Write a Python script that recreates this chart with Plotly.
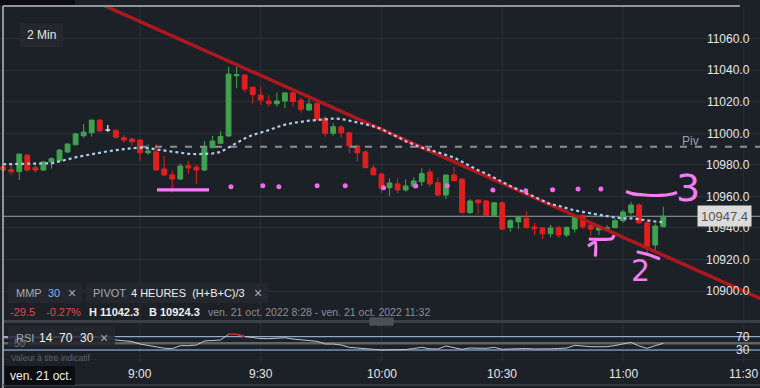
import pandas as pd
import plotly.graph_objects as go

# ---------------- data ----------------
DAY = "2022-10-21"
FIRST_CANDLE = "08:26"

opens = [10978.8, 10977.0, 10975.7, 10986.2, 10978.2, 10976.7, 10981.8, 10982.5, 10988.1, 10992.8,
         10998.5, 11000.4, 11008.4, 11002.1, 11002.0, 10997.2, 10996.4, 10995.8, 10987.7, 10988.3,
         10977.4, 10973.6, 10971.0, 10979.5, 10978.6, 10976.7, 10990.9, 10993.7, 10998.3, 11036.5,
         11037.0, 11029.2, 11024.3, 11020.5, 11018.8, 11020.5, 11025.6, 11021.1, 11014.8, 11019.0,
         11009.5, 11000.0, 11004.0, 11000.4, 10992.0, 10988.2, 10978.0, 10974.2, 10965.5, 10967.9,
         10964.1, 10966.6, 10969.3, 10975.5, 10968.7, 10960.9, 10973.6, 10971.0, 10949.7, 10957.7,
         10957.1, 10948.0, 10956.0, 10940.2, 10943.9, 10946.1, 10940.6, 10940.0, 10936.3, 10940.2,
         10935.5, 10939.3, 10947.8, 10941.9, 10938.7, 10939.3, 10940.2, 10944.6, 10949.7, 10954.5,
         10943.3, 10929.2, 10940.8]
highs = [10980.0, 10979.9, 10987.0, 10986.5, 10981.0, 10982.5, 10984.8, 10990.0, 10993.8, 11000.3,
         11005.9, 11008.6, 11009.0, 11005.3, 11002.3, 10999.0, 10997.2, 10996.0, 10993.1, 10993.2,
         10985.6, 10976.3, 10981.0, 10982.5, 10980.0, 10995.1, 10998.3, 11001.5, 11042.3, 11042.2,
         11037.3, 11029.5, 11029.6, 11024.3, 11025.8, 11026.0, 11026.2, 11022.6, 11021.8, 11021.0,
         11011.0, 11006.4, 11005.3, 11000.8, 10992.6, 10989.4, 10979.9, 10974.5, 10971.5, 10971.5,
         10970.8, 10972.1, 10977.8, 10977.4, 10972.1, 10973.6, 10978.8, 10971.3, 10958.2, 10958.0,
         10957.7, 10956.6, 10956.6, 10945.7, 10947.3, 10950.7, 10943.3, 10940.5, 10941.9, 10941.2,
         10941.0, 10948.0, 10949.9, 10944.0, 10941.9, 10941.9, 10946.1, 10951.4, 10956.4, 10955.6,
         10945.0, 10942.9, 10953.5]
lows = [10976.0, 10973.5, 10970.4, 10976.0, 10975.0, 10976.0, 10977.6, 10982.0, 10987.5, 10992.3,
        10997.2, 10997.9, 11001.0, 11001.0, 10996.5, 10994.0, 10992.2, 10982.6, 10986.3, 10976.5,
        10973.0, 10962.3, 10970.4, 10974.2, 10967.9, 10976.0, 10990.5, 10993.2, 10997.7, 11028.5,
        11026.4, 11019.0, 11018.0, 11016.9, 11016.9, 11015.9, 11016.9, 11013.1, 11014.0, 11007.8,
        10997.9, 10998.5, 10997.2, 10987.3, 10982.0, 10978.0, 10972.9, 10962.3, 10960.4, 10962.0,
        10963.0, 10965.1, 10966.6, 10966.2, 10960.0, 10958.3, 10969.5, 10949.3, 10948.8, 10948.8,
        10947.1, 10947.3, 10938.7, 10937.6, 10939.3, 10939.8, 10935.5, 10933.0, 10934.1, 10933.8,
        10934.0, 10937.0, 10939.1, 10935.1, 10935.5, 10937.6, 10939.8, 10943.3, 10948.2, 10942.5,
        10924.3, 10926.0, 10940.5]
closes = [10976.7, 10975.7, 10986.9, 10976.7, 10976.7, 10981.8, 10983.9, 10989.4, 10993.2, 10999.6,
          11000.8, 11008.4, 11001.5, 11002.1, 10997.5, 10995.7, 10994.7, 10987.7, 10988.8, 10976.7,
          10973.6, 10971.0, 10979.3, 10978.0, 10976.7, 10991.5, 10995.1, 10998.0, 11037.6, 11037.2,
          11028.1, 11024.5, 11021.1, 11018.8, 11020.5, 11025.6, 11020.1, 11015.2, 11018.6, 11008.9,
          11000.0, 11004.2, 11000.4, 10992.0, 10987.7, 10978.2, 10973.8, 10965.1, 10968.5, 10964.1,
          10966.6, 10969.8, 10974.6, 10967.9, 10960.9, 10973.6, 10970.0, 10949.7, 10957.1, 10956.0,
          10948.0, 10956.0, 10939.3, 10944.6, 10946.9, 10940.2, 10939.5, 10936.3, 10940.0, 10935.5,
          10940.4, 10947.8, 10940.8, 10939.3, 10940.4, 10940.2, 10944.6, 10950.1, 10954.5, 10943.3,
          10928.5, 10941.2, 10947.4]

# MMP 30 (moving average), read per candle
mmp30 = [10980.4, 10980.5, 10980.6, 10980.7, 10980.8, 10980.9, 10981.0, 10982.2, 10983.7, 10984.8,
         10985.8, 10986.8, 10987.7, 10988.6, 10989.3, 10990.0, 10990.6, 10990.8, 10990.6, 10989.8,
         10989.0, 10988.3, 10987.6, 10987.0, 10986.8, 10986.8, 10987.2, 10988.1, 10991.0, 10994.0,
         10996.8, 10999.0, 11000.4, 11002.0, 11003.9, 11005.5, 11006.6, 11007.4, 11008.0, 11008.4,
         11008.9, 11009.4, 11009.1, 11008.1, 11007.0, 11005.8, 11004.4, 11002.8, 11000.0, 10997.8,
         10995.0, 10992.8, 10990.9, 10989.5, 10988.0, 10986.3, 10984.7, 10982.0, 10979.3, 10976.6,
         10974.5, 10971.6, 10969.2, 10966.6, 10964.2, 10961.8, 10959.6, 10957.5, 10955.1, 10954.0,
         10952.4, 10951.1, 10950.2, 10949.2, 10948.3, 10947.5, 10946.6, 10946.1, 10946.1, 10945.5,
         10944.6, 10944.1, 10943.6]

# RSI 14, read per candle
rsi14 = [67, 66, 68, 67, 66, 66, 67, 68, 69, 69,
         68, 69, 67, 66, 60, 57, 55.5, 48, 43.5, 38,
         35.4, 34, 43, 43, 45, 57, 58.5, 60, 77, 77,
         70.5, 67, 64.5, 64, 66, 67, 63, 60, 58.5, 56,
         48, 48, 45, 38, 36, 33, 32, 30, 30, 30,
         31.5, 34.5, 38, 33.5, 33, 42, 37.5, 32, 36, 36,
         35, 38, 32, 33, 34.5, 34.5, 33, 32.5, 33.5, 34.5,
         36, 44, 41, 40, 40, 40, 43.5, 48, 53, 42,
         35, 43, 50]

pivot_value = 10991.5
pivot_span = ["09:00", "11:36"]

trend_times = ["08:50", "11:36"]
trend_prices = [11082.3, 10893.1]

pink_dot_times = ["09:22:36", "09:30:30", "09:34:30", "09:44:00", "09:51:00", "10:00:30",
                  "10:08:30", "10:16:20", "10:27:40", "10:35:50", "10:42:30", "10:48:50", "10:54:30"]
pink_dot_prices = [10966.2, 10966.8, 10966.2, 10966.8, 10966.8, 10965.5,
                   10966.6, 10966.8, 10964.1, 10963.6, 10964.2, 10964.7, 10964.7]

price_ticks = [10900, 10920, 10940, 10960, 10980, 11000, 11020, 11040, 11060]
time_ticks = ["09:00", "09:30", "10:00", "10:30", "11:00", "11:30"]
time_tick_labels = ["9:00", "9:30", "10:00", "10:30", "11:00", "11:30"]
rsi_levels = [30, 70]

# hand-drawn pink marks
scribbles = [
    (["09:04:13", "09:17:09"], [10964.2, 10964.2]),
    (["10:51:30", "10:54:17", "10:57:17", "10:57:47"], [10933.0, 10932.7, 10933.3, 10935.5]),
    (["10:51:18", "10:53:07", "10:53:07"], [10928.5, 10931.0, 10921.9]),
    (["11:03:24", "11:06:13", "11:09:11"], [10924.9, 10923.2, 10920.3]),
    (["11:00:45", "11:02:14", "11:05:28", "11:09:11", "11:12:10", "11:13:25"],
     [10963.1, 10961.8, 10960.9, 10960.6, 10961.5, 10962.5]),
]
scribble_digits = [("2", "11:04:28", 10913.3, 30), ("3", "11:16:09", 10965.3, 38)]

# ---------------- figure ----------------
W, H = 760, 388
def px(x): return x / W
def py(y): return 1 - y / H
def ts(t): return f"{DAY} {t}"

FONT = "Liberation Sans, Arial, sans-serif"
BG = "#1c2128"
GRID = "#2b3038"
GREEN = "#3fa34d"
RED = "#e0201e"
PINK = "#f47def"

times = pd.date_range(ts(FIRST_CANDLE), periods=len(opens), freq="2min")
n = len(opens)
reg = [i for i in range(n) if opens[i] != closes[i]]
doji = [i for i in range(n) if opens[i] == closes[i]]

fig = go.Figure()

# pivot dashed line
fig.add_trace(go.Scatter(x=[ts(t) for t in pivot_span], y=[pivot_value] * 2, mode="lines",
                         line=dict(color="#8b9096", width=2, dash="7px,8px"),
                         xaxis="x", yaxis="y", hoverinfo="skip"))

fig.add_trace(go.Candlestick(
    x=[times[i] for i in reg], open=[opens[i] for i in reg], high=[highs[i] for i in reg],
    low=[lows[i] for i in reg], close=[closes[i] for i in reg],
    increasing=dict(line=dict(color=GREEN, width=1), fillcolor=GREEN),
    decreasing=dict(line=dict(color=RED, width=1), fillcolor=RED),
    whiskerwidth=0, xaxis="x", yaxis="y"))
if doji:
    fig.add_trace(go.Candlestick(
        x=[times[i] for i in doji], open=[opens[i] for i in doji], high=[highs[i] for i in doji],
        low=[lows[i] for i in doji], close=[closes[i] for i in doji],
        increasing=dict(line=dict(color="#e8e8e8", width=1.3), fillcolor="#e8e8e8"),
        decreasing=dict(line=dict(color="#e8e8e8", width=1.3), fillcolor="#e8e8e8"),
        whiskerwidth=0, xaxis="x", yaxis="y"))

# trend line
fig.add_trace(go.Scatter(x=[ts(t) for t in trend_times], y=trend_prices, mode="lines",
                         line=dict(color="rgba(180,24,28,0.95)", width=3.5),
                         xaxis="x", yaxis="y", hoverinfo="skip"))

# MMP 30 dotted
fig.add_trace(go.Scatter(x=times, y=mmp30, mode="lines",
                         line=dict(color="#aecbed", width=2.2, dash="3px,3px"),
                         xaxis="x", yaxis="y", hoverinfo="skip"))

# pink dots
fig.add_trace(go.Scatter(x=[ts(t) for t in pink_dot_times], y=pink_dot_prices, mode="markers",
                         marker=dict(color="#f06af0", size=5),
                         xaxis="x", yaxis="y", hoverinfo="skip"))

# scribbles
for sx, sy in scribbles:
    fig.add_trace(go.Scatter(x=[ts(t) for t in sx], y=sy, mode="lines",
                             line=dict(color=PINK, width=3.2, shape="spline", smoothing=0.6),
                             xaxis="x", yaxis="y", hoverinfo="skip"))

# RSI
fig.add_trace(go.Scatter(x=times, y=rsi14, mode="lines", line=dict(color="#c3c6ca", width=1),
                         xaxis="x", yaxis="y2", hoverinfo="skip"))
rsi_hi = [v if v >= 70 else None for v in rsi14]
fig.add_trace(go.Scatter(x=times, y=rsi_hi, mode="lines", line=dict(color="#c8262c", width=1.5),
                         xaxis="x", yaxis="y2", hoverinfo="skip", connectgaps=False))

shapes = []
# vertical grid
for t in time_ticks:
    shapes.append(dict(type="line", xref="x", yref="paper", x0=ts(t), x1=ts(t),
                       y0=py(362), y1=py(7), line=dict(color=GRID, width=1), layer="below"))
# last price line
shapes.append(dict(type="line", xref="paper", yref="y", x0=px(3), x1=1, y0=closes[-1], y1=closes[-1],
                   line=dict(color="#9a9fa5", width=1), layer="below"))
# RSI level lines
shapes.append(dict(type="line", xref="paper", yref="y2", x0=px(3), x1=1, y0=50, y1=50,
                   line=dict(color="#5f646b", width=2.5), layer="below"))
for lv in rsi_levels:
    shapes.append(dict(type="line", xref="paper", yref="y2", x0=px(3), x1=1, y0=lv, y1=lv,
                       line=dict(color="#a9c9ef", width=1), layer="below"))
for lv in [0, 100]:
    shapes.append(dict(type="line", xref="paper", yref="y2", x0=px(3), x1=1, y0=lv, y1=lv,
                       line=dict(color=GRID, width=1), layer="below"))
# separator + handle
shapes.append(dict(type="line", xref="paper", yref="paper", x0=px(3), x1=1, y0=py(321.5), y1=py(321.5),
                   line=dict(color="#3a3f46", width=3)))
shapes.append(dict(type="rect", xref="paper", yref="paper", x0=px(370), x1=px(393), y0=py(325), y1=py(318),
                   line=dict(color="#55595f", width=1), fillcolor="#4a4e55"))
# borders
shapes.append(dict(type="line", xref="paper", yref="paper", x0=px(3), x1=px(3), y0=0, y1=py(6),
                   line=dict(color="#b8bcc1", width=1.5)))
shapes.append(dict(type="line", xref="paper", yref="paper", x0=px(3), x1=px(740), y0=py(6), y1=py(6),
                   line=dict(color="#b8bcc1", width=1.5)))
shapes.append(dict(type="line", xref="paper", yref="paper", x0=px(3), x1=1, y0=py(385), y1=py(385),
                   line=dict(color="#3a3f46", width=1.5)))
# boxes
def box(x0, y0, x1, y1, color):
    shapes.append(dict(type="rect", xref="paper", yref="paper", x0=px(x0), x1=px(x1), y0=py(y1), y1=py(y0),
                       line=dict(width=0), fillcolor=color))
box(0, 0, 75, 5, "#0b0d10")
box(20, 23, 63, 47, "#24282e")
box(8, 283, 82, 303, "#24282e")
box(86, 283, 268, 303, "#24282e")
box(5, 366, 75, 385, "#0b0d10")

annotations = []
def txt(x, y, text, size=12, color="#e6e6e6", xanchor="left", yanchor="middle", **kw):
    annotations.append(dict(xref="paper", yref="paper", x=px(x), y=py(y), text=text, showarrow=False,
                            xanchor=xanchor, yanchor=yanchor, borderpad=0,
                            font=dict(family=FONT, size=size, color=color), **kw))

# top clipped labels (a scrolled header strip, only their lower edge shows)
for cx, lab in zip([137, 221, 303, 387, 470, 551, 633, 718],
                   ["9:00", "9:20", "9:40", "9:50", "10:10", "10:30", "10:50", "11:10"]):
    txt(cx, 4, lab, color="#cfd3d8", xanchor="center", yanchor="bottom")
txt(8, 4, "ven. 21 oct.", color="#cfd3d8", yanchor="bottom")

txt(41.5, 35, "2 Min", xanchor="center")
txt(690.5, 141, "Piv", color="#9ca0a6", xanchor="center")

annotations.append(dict(xref="paper", yref="y", x=px(752), y=closes[-1], text=f"{closes[-1]:.1f}",
                        showarrow=False, xanchor="right", yanchor="middle", width=53, height=20,
                        bgcolor="#dcdcdc", borderpad=0,
                        font=dict(family=FONT, size=13, color="#555555")))

for d, t, p, s in scribble_digits:
    annotations.append(dict(xref="x", yref="y", x=ts(t), y=p, text=d, showarrow=False,
                            xanchor="center", yanchor="middle",
                            font=dict(family="DejaVu Sans, sans-serif", size=s, color=PINK)))

# bottom time labels
for t, lab in zip(time_ticks, time_tick_labels):
    annotations.append(dict(xref="x", yref="paper", x=ts(t), y=py(374), text=lab, showarrow=False,
                            xanchor="center", yanchor="middle",
                            font=dict(family=FONT, size=12, color="#e6e6e6")))

# info boxes
txt(15, 293, "MMP", size=11, color="#a7abb1")
txt(47, 293, "30", size=11, color="#7cb0ea")
txt(67, 293, "×", size=14, color="#a7abb1")
txt(92, 293, "PIVOT", size=11, color="#a7abb1")
txt(130, 293, "4 HEURES&nbsp;&nbsp;(H+B+C)/3", size=11, color="#f0f0f0")
txt(253, 293, "×", size=14, color="#a7abb1")
txt(9, 312, "-29.5", size=11, color="#e2474b")
txt(45, 312, "-0.27%", size=11, color="#e2474b")
txt(88, 312, "<b>H 11042.3</b>", size=11, color="#f0f0f0")
txt(148, 312, "<b>B 10924.3</b>", size=11, color="#f0f0f0")
txt(207, 312, "ven. 21 oct. 2022 8:28 - ven. 21 oct. 2022 11:32", size=10.5, color="#8a8f96")

# RSI info
txt(13, 343, "50", size=10, color="#6f747b")
shapes.append(dict(type="rect", xref="paper", yref="paper", x0=px(8), x1=px(115), y0=py(347), y1=py(326),
                   line=dict(width=0), fillcolor="rgba(36,40,46,0.85)"))
txt(15, 337.5, "RSI", size=11, color="#a7abb1")
txt(38, 337.5, "14", color="#f0f0f0")
txt(58, 337.5, "70", color="#f0f0f0")
txt(79, 337.5, "30", color="#f0f0f0")
txt(99, 337.5, "×", size=14, color="#a7abb1")
txt(10, 357.5, "Valeur à titre indicatif", size=8.5, color="#5d626a")
txt(9, 375.5, "ven. 21 oct.", color="#f0f0f0")

axfont = dict(family=FONT, size=12, color="#e6e6e6")
fig.update_layout(
    width=W, height=H, margin=dict(l=0, r=0, t=0, b=0),
    paper_bgcolor=BG, plot_bgcolor=BG, showlegend=False, boxgap=0.15,
    xaxis=dict(type="date", range=[ts("08:25:13"), ts("11:34:02")], domain=[0, 1], anchor="y2",
               rangeslider=dict(visible=False), showgrid=False, zeroline=False, showline=False,
               showticklabels=False, ticks=""),
    yaxis=dict(domain=[py(321), py(7)], range=[10881.0, 11080.1], side="right", anchor="x",
               tickvals=price_ticks, tickformat=".1f", ticklabelposition="inside",
               ticks="inside", ticklen=10, tickcolor="rgba(0,0,0,0)",
               showgrid=True, gridcolor=GRID, gridwidth=1, zeroline=False, showline=False, tickfont=axfont),
    yaxis2=dict(domain=[py(360), py(326.7)], range=[0, 100], side="right", anchor="x",
                tickvals=rsi_levels, ticklabelposition="inside", ticks="inside", ticklen=10,
                tickcolor="rgba(0,0,0,0)", showgrid=False, zeroline=False, showline=False, tickfont=axfont),
    shapes=shapes, annotations=annotations,
)

fig.write_html("out.html")
